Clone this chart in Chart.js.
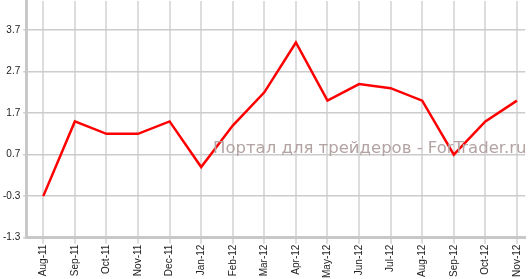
<!DOCTYPE html>
<html>
<head>
<meta charset="utf-8">
<script src="https://cdn.jsdelivr.net/npm/chart.js@4.4.0/dist/chart.umd.min.js"></script>
<style>
html,body{margin:0;padding:0;background:#fff;overflow:hidden;}
#wrap{position:relative;width:530px;height:279px;overflow:hidden;}
#c{position:absolute;left:0;top:-8px;}
#wm{position:absolute;left:213px;top:138px;font-family:"DejaVu Sans",sans-serif;font-size:16.5px;color:#b3a3a3;white-space:nowrap;pointer-events:none;}
</style>
</head>
<body>
<div id="wrap">
<canvas id="c" width="530" height="287"></canvas>
<div id="wm">Портал для трейдеров - ForTrader.ru</div>
</div>
<script>
const categories = ["Aug-11","Sep-11","Oct-11","Nov-11","Dec-11","Jan-12","Feb-12","Mar-12","Apr-12","May-12","Jun-12","Jul-12","Aug-12","Sep-12","Oct-12","Nov-12"];
const values = [-0.3, 1.5, 1.2, 1.2, 1.5, 0.4, 1.4, 2.2, 3.4, 2.0, 2.4, 2.3, 2.0, 0.7, 1.5, 2.0];
const yTicks = [-1.3, -0.3, 0.7, 1.7, 2.7, 3.7];

new Chart(document.getElementById('c'), {
  type: 'line',
  data: {
    datasets: [{
      data: values.map((v, i) => ({x: i, y: v})),
      borderColor: '#ff0000',
      borderWidth: 2.5,
      pointRadius: 0,
      tension: 0,
      fill: false
    }]
  },
  options: {
    responsive: false,
    animation: false,
    layout: {padding: {top: 0, right: 3, left: 0, bottom: 0}},
    plugins: {legend: {display: false}, tooltip: {enabled: false}},
    scales: {
      x: {
        type: 'linear',
        min: -0.54,
        max: 15.26,
        afterBuildTicks: (s) => { s.ticks = categories.map((c, i) => ({value: i})); },
        ticks: {
          callback: (v) => categories[v],
          minRotation: 90, maxRotation: 90,
          autoSkip: false,
          padding: 1,
          color: '#222',
          font: {family: '"Liberation Sans", Arial, sans-serif', size: 10}
        },
        grid: {color: '#dddddd', lineWidth: 2, tickLength: 6},
        border: {color: '#c8c8c8', width: 3}
      },
      y: {
        min: -1.3,
        max: 4.4,
        afterBuildTicks: (s) => { s.ticks = yTicks.map(v => ({value: v})); },
        ticks: {
          callback: (v) => v.toFixed(1),
          padding: 3,
          color: '#222',
          font: {family: '"Liberation Sans", Arial, sans-serif', size: 10}
        },
        grid: {color: '#cccccc', lineWidth: 1.5, tickLength: 3},
        border: {color: '#c8c8c8', width: 3}
      }
    }
  }
});
</script>
</body>
</html>
